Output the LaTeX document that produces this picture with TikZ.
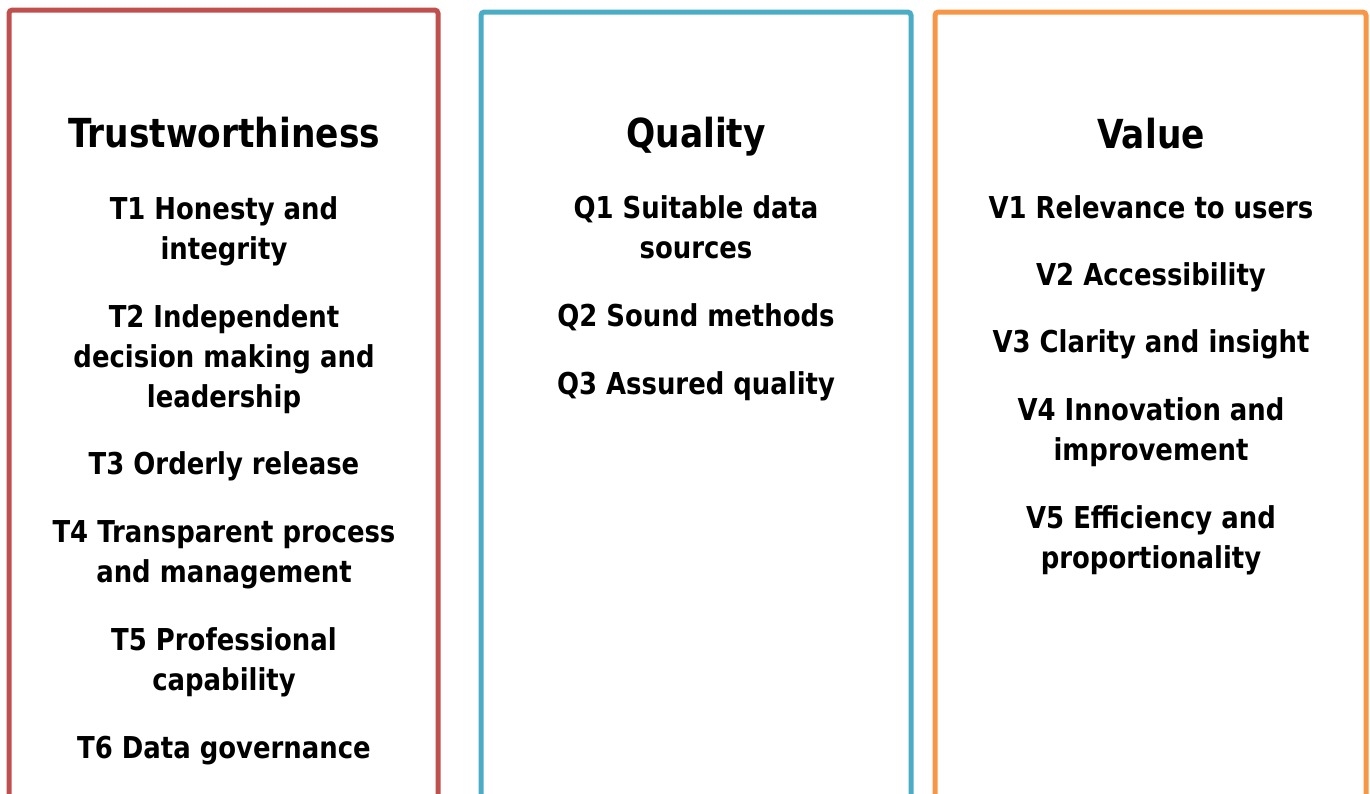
\documentclass[tikz,border=0pt]{standalone}
\usepackage{fontspec}
\setmainfont{DejaVu Sans}[FakeStretch=0.86]

\definecolor{trustred}{HTML}{C0504D}
\definecolor{qualblue}{HTML}{4BACC6}
\definecolor{valorange}{HTML}{F79646}

\begin{document}
\begin{tikzpicture}[x=0.75pt,y=-0.75pt]
\tikzstyle{pillar}=[line width=3.75pt,rounded corners=2.5pt]
\tikzstyle{heading}=[anchor=base,inner sep=0pt,font=\bfseries\fontsize{30}{36}\selectfont]
% multi-line nodes sit on the baseline of their last line
\tikzstyle{principle}=[anchor=base,inner sep=0pt,align=center,font=\bfseries\fontsize{22.6}{30}\selectfont]
\useasboundingbox (0,0) rectangle (1370,793);

% frames are open at the bottom
\draw[pillar,trustred] (9,810) -- (9,10) -- (438,10) -- (438,810);
\draw[pillar,qualblue] (481,810) -- (481,12) -- (911,12) -- (911,810);
\draw[pillar,valorange] (935,810) -- (935,12) -- (1366,12) -- (1366,810);

% Trustworthiness
\node[heading] (trust) at (224,147) {Trustworthiness};
\node[principle] (t1) at (224,259) {T1 Honesty and\\integrity};
\node[principle] (t2) at (224,407) {T2 Independent\\decision making and\\leadership};
\node[principle] (t3) at (224,474) {T3 Orderly release};
\node[principle] (t4) at (224,582) {T4 Transparent process\\and management};
\node[principle] (t5) at (224,690) {T5 Professional\\capability};
\node[principle] (t6) at (224,758) {T6 Data governance};

% Quality
\node[heading] (qual) at (696,147) {Quality};
\node[principle] (q1) at (696,258) {Q1 Suitable data\\sources};
\node[principle] (q2) at (696,326) {Q2 Sound methods};
\node[principle] (q3) at (696,394) {Q3 Assured quality};

% Value
\node[heading] (val) at (1151,148) {Value};
\node[principle] (v1) at (1151,218) {V1 Relevance to users};
\node[principle] (v2) at (1151,285) {V2 Accessibility};
\node[principle] (v3) at (1151,352) {V3 Clarity and insight};
\node[principle] (v4) at (1151,460) {V4 Innovation and\\improvement};
\node[principle] (v5) at (1151,568) {V5 Efficiency and\\proportionality};
\end{tikzpicture}
\end{document}
